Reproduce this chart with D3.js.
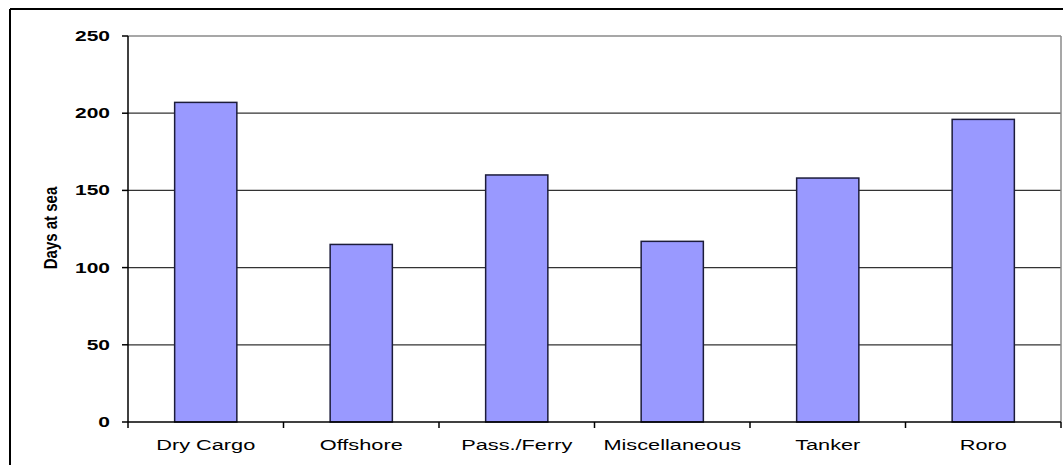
<!DOCTYPE html>
<html>
<head>
<meta charset="utf-8">
<script src="https://cdn.jsdelivr.net/npm/d3@7"></script>
<style>
  body { margin: 0; background: #fff; }
  text { font-family: "Liberation Sans", Arial, sans-serif; fill: #000; }
</style>
</head>
<body>
<script>
var categorias = ["Dry Cargo", "Offshore", "Pass./Ferry", "Miscellaneous", "Tanker", "Roro"];
var dias = [207, 115, 160, 117, 158, 196];
var yTicks = [0, 50, 100, 150, 200, 250];

var w = 1063;
var h = 465;
var izq = 128, der = 1061, arriba = 36, abajo = 422;
var estirar = 1.5; // the original picture is stretched sideways

var svg = d3.select("body")
    .append("svg")
    .attr("width", w)
    .attr("height", h);

// outer frame (only top and left are inside the picture)
svg.append("line").attr("x1", 10).attr("x2", w).attr("y1", 9).attr("y2", 9)
    .attr("stroke", "#000").attr("stroke-width", 2);
svg.append("line").attr("x1", 10).attr("x2", 10).attr("y1", 9).attr("y2", h)
    .attr("stroke", "#000").attr("stroke-width", 2);

var x = d3.scaleBand()
    .domain(categorias)
    .range([izq, der])
    .paddingInner(0.6)
    .paddingOuter(0.3);

var xLimites = d3.scaleBand()
    .domain(categorias)
    .range([izq, der]);

var y = d3.scaleLinear()
    .domain([0, 250])
    .range([abajo, arriba]);

// gridlines
svg.selectAll("line.grid")
    .data(yTicks.filter(function (d) { return d > 0 && d < 250; }))
    .enter()
    .append("line")
    .attr("class", "grid")
    .attr("x1", izq)
    .attr("x2", der)
    .attr("y1", function (d) { return y(d); })
    .attr("y2", function (d) { return y(d); })
    .attr("stroke", "#333")
    .attr("stroke-width", 1.2);

// plot area border top / right (gray)
svg.append("line").attr("x1", izq).attr("x2", der).attr("y1", y(250)).attr("y2", y(250))
    .attr("stroke", "#8a8a8a").attr("stroke-width", 1.5);
svg.append("line").attr("x1", der).attr("x2", der).attr("y1", y(250)).attr("y2", y(0))
    .attr("stroke", "#8a8a8a").attr("stroke-width", 1.5);

// bars
svg.selectAll("rect.barra")
    .data(dias)
    .enter()
    .append("rect")
    .attr("class", "barra")
    .attr("x", function (d, i) { return x(categorias[i]); })
    .attr("width", x.bandwidth())
    .attr("y", function (d) { return y(d); })
    .attr("height", function (d) { return y(0) - y(d); })
    .attr("fill", "#9999ff")
    .attr("stroke", "#1c1c3a")
    .attr("stroke-width", 1.5);

// axes lines
svg.append("line").attr("x1", izq).attr("x2", izq).attr("y1", y(250)).attr("y2", y(0))
    .attr("stroke", "#000").attr("stroke-width", 1.5);
svg.append("line").attr("x1", izq).attr("x2", der).attr("y1", y(0)).attr("y2", y(0))
    .attr("stroke", "#000").attr("stroke-width", 1.5);

// y ticks and labels
svg.selectAll("line.ytick")
    .data(yTicks)
    .enter()
    .append("line")
    .attr("class", "ytick")
    .attr("x1", izq - 6)
    .attr("x2", izq)
    .attr("y1", function (d) { return y(d); })
    .attr("y2", function (d) { return y(d); })
    .attr("stroke", "#000")
    .attr("stroke-width", 1.5);

svg.selectAll("text.ylab")
    .data(yTicks)
    .enter()
    .append("text")
    .attr("class", "ylab")
    .attr("transform", function (d) {
        return "translate(" + (izq - 18) + "," + (y(d) + 5) + ") scale(" + estirar + ",1)";
    })
    .attr("text-anchor", "end")
    .attr("font-size", 14)
    .attr("font-weight", "bold")
    .text(function (d) { return d; });

// x ticks on category boundaries
var limites = categorias.map(function (c) { return xLimites(c); }).concat([der]);
svg.selectAll("line.xtick")
    .data(limites)
    .enter()
    .append("line")
    .attr("class", "xtick")
    .attr("x1", function (d) { return d; })
    .attr("x2", function (d) { return d; })
    .attr("y1", y(0))
    .attr("y2", y(0) + 6)
    .attr("stroke", "#000")
    .attr("stroke-width", 1.5);

svg.selectAll("text.xlab")
    .data(categorias)
    .enter()
    .append("text")
    .attr("class", "xlab")
    .attr("transform", function (d) {
        return "translate(" + (x(d) + x.bandwidth() / 2) + ",450) scale(" + estirar + ",1)";
    })
    .attr("text-anchor", "middle")
    .attr("font-size", 14.5)
    .text(function (d) { return d; });

// y axis title
svg.append("text")
    .attr("transform", "translate(57,228) scale(1.25,1) rotate(-90)")
    .attr("text-anchor", "middle")
    .attr("font-size", 15)
    .attr("font-weight", "bold")
    .text("Days at sea");
</script>
</body>
</html>
